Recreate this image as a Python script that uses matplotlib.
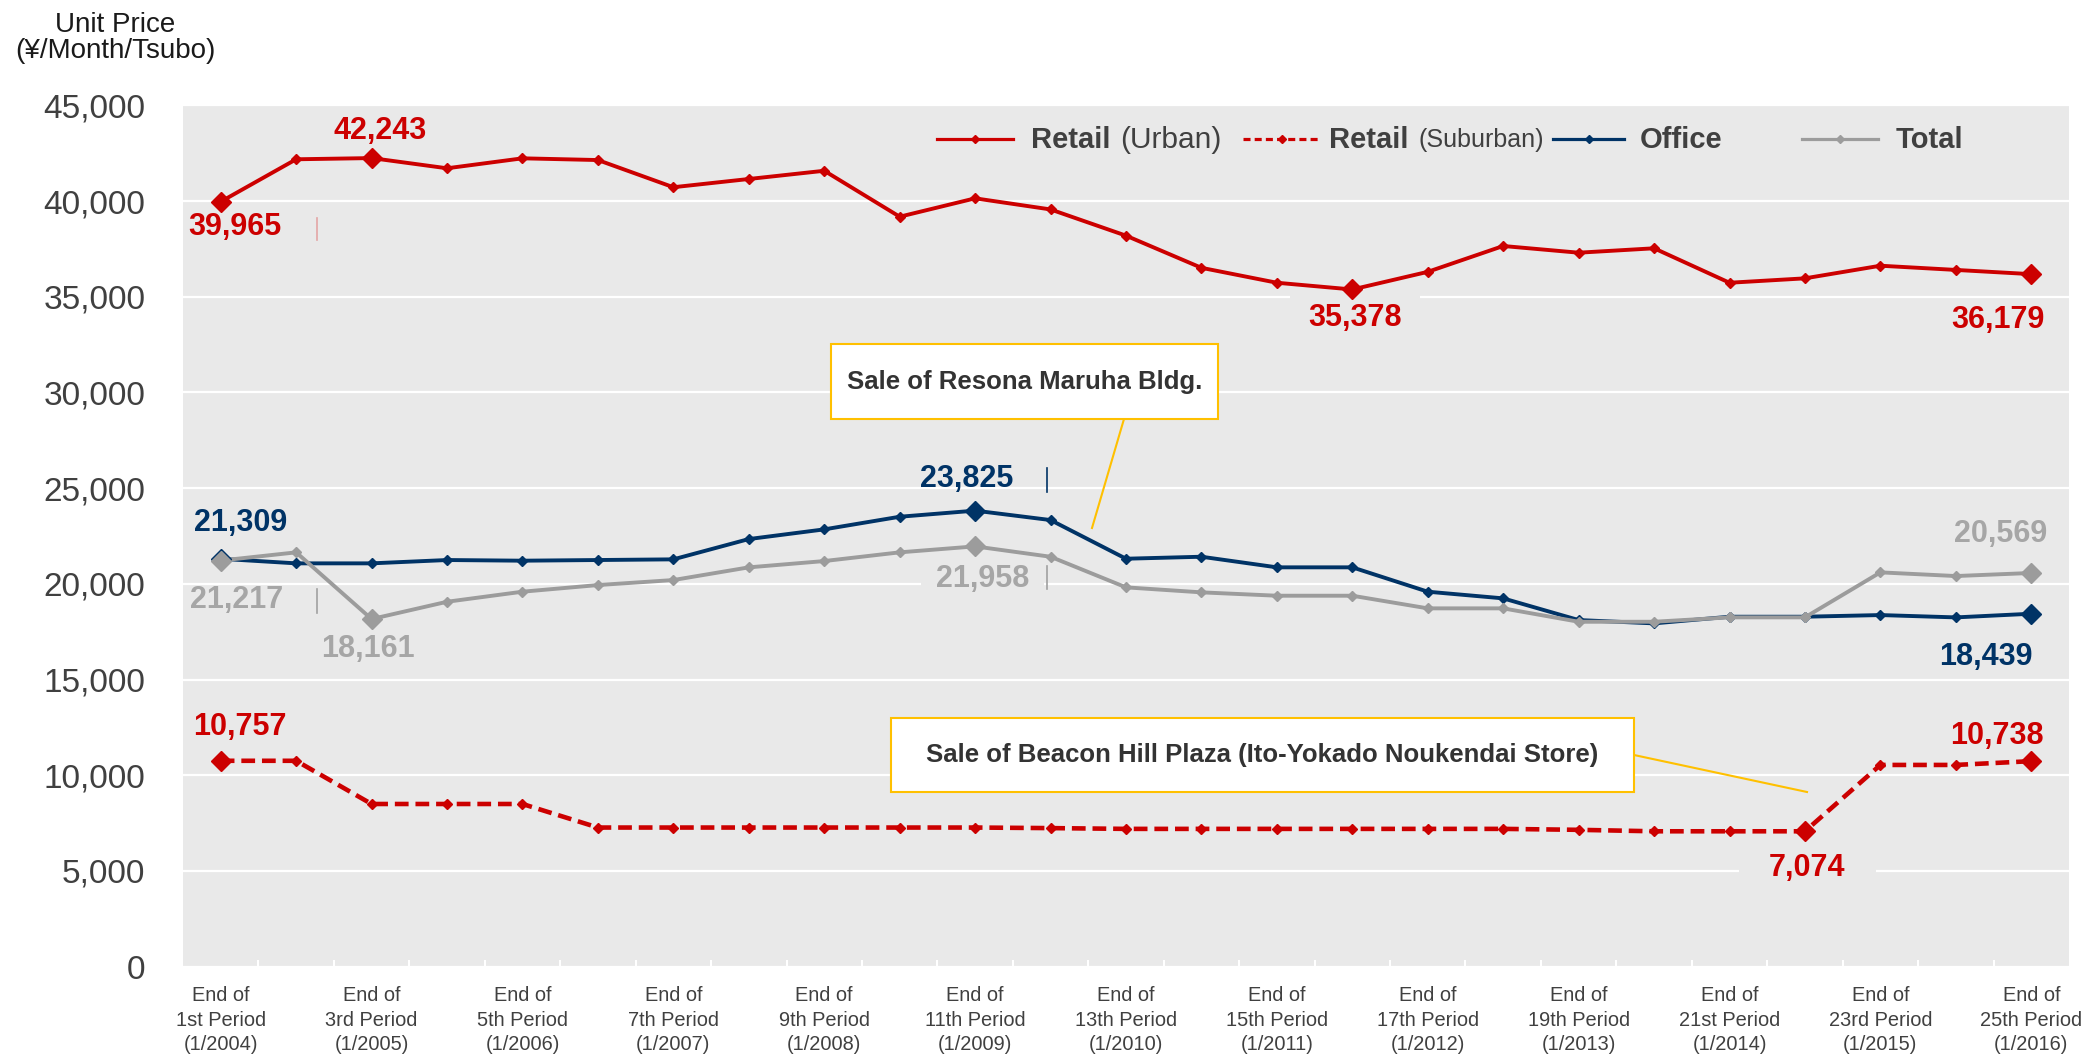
import matplotlib
matplotlib.use("Agg")
import matplotlib.pyplot as plt
from matplotlib.lines import Line2D
from matplotlib.patches import Rectangle
import numpy as np

plt.rcParams['font.family'] = ['Liberation Sans', 'DejaVu Sans']

# ---------------- data ----------------
periods = ["1st", "2nd", "3rd", "4th", "5th", "6th", "7th", "8th", "9th", "10th",
           "11th", "12th", "13th", "14th", "15th", "16th", "17th", "18th", "19th", "20th",
           "21st", "22nd", "23rd", "24th", "25th"]
years = ["1/2004", "", "1/2005", "", "1/2006", "", "1/2007", "", "1/2008", "",
         "1/2009", "", "1/2010", "", "1/2011", "", "1/2012", "", "1/2013", "",
         "1/2014", "", "1/2015", "", "1/2016"]

retail_urban = [39965, 42180, 42243, 41710, 42230, 42140, 40720, 41150, 41580, 39180,
                40140, 39560, 38190, 36510, 35730, 35378, 36300, 37650, 37300, 37530,
                35730, 35960, 36620, 36400, 36179]
retail_suburban = [10757, 10757, 8500, 8500, 8500, 7270, 7270, 7270, 7270, 7270,
                   7270, 7240, 7200, 7200, 7200, 7200, 7200, 7200, 7150, 7074,
                   7074, 7074, 10540, 10540, 10738]
office = [21309, 21071, 21071, 21245, 21210, 21245, 21280, 22340, 22846, 23506,
          23825, 23333, 21313, 21417, 20863, 20863, 19590, 19242, 18109, 17935,
          18283, 18283, 18370, 18248, 18439]
total = [21217, 21646, 18161, 19065, 19590, 19937, 20199, 20862, 21191, 21646,
         21958, 21416, 19817, 19556, 19380, 19380, 18720, 18720, 18020, 18020,
         18250, 18250, 20600, 20408, 20569]

RED = "#CC0000"
NAVY = "#003366"
GRAY = "#9C9C9C"
GRAY_LBL = "#A6A6A6"
BG = "#E9E9E9"
TXT = "#404040"

W, H = 2093, 1054
fig = plt.figure(figsize=(W / 100, H / 100), dpi=100)

def fx(x):
    return x / W

def fy(y):
    return 1 - y / H

ax_l, ax_r, ax_t, ax_b = 183, 2069, 105.3, 966.7
ax = fig.add_axes([fx(ax_l), fy(ax_b), (ax_r - ax_l) / W, (ax_b - ax_t) / H])
ax.set_facecolor(BG)
n = len(periods)
x = np.arange(n)
ax.set_xlim(-0.5, n - 0.5)
ax.set_ylim(0, 45000)

for s in ["left", "right", "top"]:
    ax.spines[s].set_visible(False)
ax.spines["bottom"].set_color("white")
ax.spines["bottom"].set_linewidth(1.5)

ax.set_yticks(np.arange(0, 45001, 5000))
ax.set_yticklabels([f"{v:,}" for v in range(0, 45001, 5000)])
ax.yaxis.grid(True, color="white", linewidth=1.6)
ax.set_axisbelow(True)
ax.tick_params(axis="y", length=0, pad=27, labelsize=24, labelcolor=TXT)

lbl_idx = list(range(0, n, 2))
ax.set_xticks(lbl_idx)
ax.set_xticklabels([f"End of\n{periods[i]} Period\n({years[i]})" for i in lbl_idx],
                   fontsize=14.4, color=TXT, linespacing=1.36)
ax.set_xticks(np.arange(0.5, n - 1, 1), minor=True)
ax.tick_params(axis="x", which="major", length=0, pad=14)
ax.tick_params(axis="x", which="minor", length=5, width=1.5, color="white", direction="in")

# ---------------- lines ----------------
lw = 2.8
ax.plot(x, retail_urban, color=RED, lw=lw, marker="D", ms=5.5, zorder=3)
ax.plot(x, retail_suburban, color=RED, lw=3.3, ls=(0, (3.0, 1.5)), marker="D", ms=5.5,
        zorder=3, dash_capstyle="butt")
ax.plot(x, office, color=NAVY, lw=lw, marker="D", ms=5.5, zorder=3)
ax.plot(x, total, color=GRAY, lw=lw, marker="D", ms=5.5, zorder=3.1)

big = [(retail_urban, [0, 2, 15, 24], RED),
       (retail_suburban, [0, 21, 24], RED),
       (office, [0, 10, 24], NAVY),
       (total, [0, 2, 10, 24], GRAY)]
for ser, idxs, c in big:
    ax.plot([x[i] for i in idxs], [ser[i] for i in idxs], ls="none", marker="D",
            ms=10, color=c, zorder=3.2)

# ---------------- data labels ----------------
# (series, index, dx px, dy px, colour, background pad in points or None)
labels = [
    (retail_urban, 0, 13.8, -25.8, RED, None),
    (retail_urban, 2, 9, 27, RED, None),
    (retail_urban, 15, 3, -28.5, RED, 13),
    (retail_urban, 24, -33, -46, RED, None),
    (office, 0, 19.5, 35.7, NAVY, None),
    (total, 0, 16, -39.5, GRAY_LBL, None),
    (total, 2, -4, -30, GRAY_LBL, None),
    (office, 10, -8.6, 32, NAVY, None),
    (total, 10, 7.4, -32.7, GRAY_LBL, 11),
    (total, 24, -31, 39, GRAY_LBL, None),
    (office, 24, -45, -43, NAVY, None),
    (retail_suburban, 0, 19, 33.7, RED, None),
    (retail_suburban, 24, -34, 25.6, RED, None),
    (retail_suburban, 21, 2.5, -37, RED, 22),
]
for ser, i, dx, dy, c, pad in labels:
    kw = {}
    if pad is not None:
        kw["bbox"] = dict(boxstyle=f"square,pad={pad / 22:.3f}", fc=BG, ec="none")
    ax.annotate(f"{ser[i]:,}", xy=(x[i], ser[i]), xytext=(dx / 1.389, dy / 1.389),
                textcoords="offset points", ha="center", va="center",
                fontsize=22, fontweight="bold", color=c, zorder=2.5, **kw)

# small leader ticks next to some labels (as in original)
for (xx, y1, y2, c) in [(317, 218, 240, "#E3A5A5"), (317, 589, 613, "#A0A0A0"),
                        (1047, 468, 492, NAVY), (1047, 566, 589, "#A0A0A0")]:
    fig.add_artist(Line2D([fx(xx), fx(xx)], [fy(y1), fy(y2)], color=c, lw=1.2,
                          transform=fig.transFigure, zorder=5))

# ---------------- callout boxes ----------------
YEL = "#FFC000"
def callout(x0, y0, x1, y1, text, lx0, ly0, lx1, ly1):
    fig.add_artist(Line2D([fx(lx0), fx(lx1)], [fy(ly0), fy(ly1)], color=YEL, lw=1.5,
                          transform=fig.transFigure, zorder=6))
    fig.add_artist(Rectangle((fx(x0), fy(y1)), (x1 - x0) / W, (y1 - y0) / H,
                             transform=fig.transFigure, fc="white", ec=YEL, lw=1.5,
                             zorder=7))
    fig.text(fx((x0 + x1) / 2), fy((y0 + y1) / 2), text, ha="center", va="center",
             fontsize=18.5, fontweight="bold", color="#333333", zorder=8)

callout(831, 344, 1218, 419, "Sale of Resona Maruha Bldg.", 1124, 419, 1092, 528)
callout(891, 718, 1634, 792, "Sale of Beacon Hill Plaza (Ito-Yokado Noukendai Store)",
        1634, 755, 1807, 792)

# ---------------- legend ----------------
def leg_line(x0, x1, y, c, ls="-"):
    fig.add_artist(Line2D([fx(x0), fx((x0 + x1) / 2), fx(x1)], [fy(y)] * 3, color=c,
                          lw=2.3, ls=ls, marker="D", ms=4.5, markevery=[1],
                          transform=fig.transFigure, zorder=6))

ly, lb = 139.3, 147.5
leg_line(937, 1013, ly, RED)
fig.text(fx(1031), fy(lb), "Retail", fontsize=21, fontweight="bold", color=TXT, va="baseline")
fig.text(fx(1120), fy(lb), "(Urban)", fontsize=21.5, color=TXT, va="baseline")
leg_line(1243, 1320, ly, RED, ls=(0, (2.2, 1.3)))
fig.text(fx(1329), fy(lb), "Retail", fontsize=21, fontweight="bold", color=TXT, va="baseline")
fig.text(fx(1418), fy(lb), "(Suburban)", fontsize=18, color=TXT, va="baseline")
leg_line(1553, 1624, ly, NAVY)
fig.text(fx(1640), fy(lb), "Office", fontsize=21, fontweight="bold", color=TXT, va="baseline")
leg_line(1802, 1878, ly, GRAY)
fig.text(fx(1896), fy(lb), "Total", fontsize=21, fontweight="bold", color=TXT, va="baseline")

# ---------------- axis title ----------------
fig.text(fx(115), fy(38), "Unit Price\n(¥/Month/Tsubo)", ha="center", va="center",
         fontsize=20, color="#1A1A1A", linespacing=1.05)

fig.savefig("out.png", dpi=100, facecolor="white")
